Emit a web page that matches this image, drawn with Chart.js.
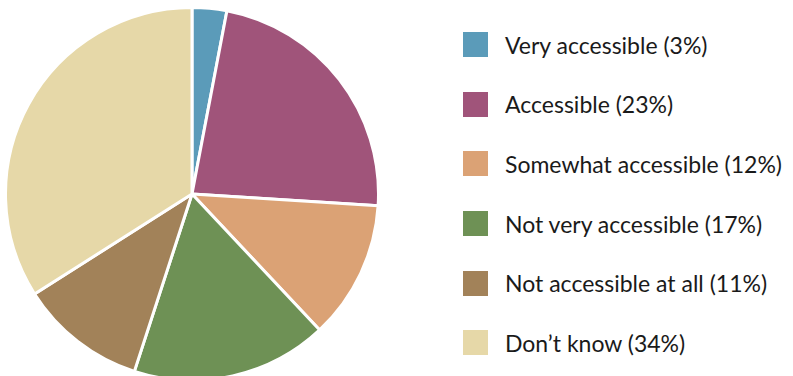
<!DOCTYPE html>
<html lang="en">
<head>
  <meta charset="UTF-8" />
  <title>Accessibility</title>
  <script src="https://cdn.jsdelivr.net/npm/chart.js"></script>
  <style>
    body { margin: 0; background: #fff; width: 793px; height: 376px; position: relative; overflow: hidden; font-family: Lato, sans-serif; }
    #pieBox { position: absolute; left: 4px; top: 6px; width: 376px; height: 376px; }
    #legend { position: absolute; left: 463px; top: 32px; }
    .row { display: flex; align-items: center; height: 25px; margin-bottom: 34.7px; }
    .box { width: 25px; height: 25px; margin-right: 17px; flex: none; }
    .label { font-size: 23px; color: #1a1a1a; white-space: nowrap; }
  </style>
</head>
<body>
  <div id="pieBox"><canvas id="pie"></canvas></div>
  <div id="legend"></div>

  <script>
    const labels = ['Very accessible', 'Accessible', 'Somewhat accessible', 'Not very accessible', 'Not accessible at all', 'Don\u2019t know'];
    const shares = [3, 23, 12, 17, 11, 34];
    const colors = ['#5b9bb9', '#a0547a', '#dba275', '#6e9155', '#a28259', '#e6d8a8'];

    // legend on the right, one row per slice
    const legend = document.getElementById('legend');
    labels.forEach((name, i) => {
      const row = document.createElement('div');
      row.className = 'row';
      row.innerHTML = `<div class="box" style="background:${colors[i]}"></div><span class="label">${name} (${shares[i]}%)</span>`;
      legend.appendChild(row);
    });

    new Chart(document.getElementById('pie'), {
      type: 'pie',
      data: {
        labels: labels,
        datasets: [{
          data: shares,
          backgroundColor: colors,
          borderColor: '#ffffff',
          borderWidth: 3
        }]
      },
      options: {
        responsive: true,
        maintainAspectRatio: false,
        animation: false,
        layout: { padding: 0 },
        plugins: {
          legend: { display: false },
          tooltip: { enabled: false }
        }
      }
    });
  </script>
</body>
</html>
